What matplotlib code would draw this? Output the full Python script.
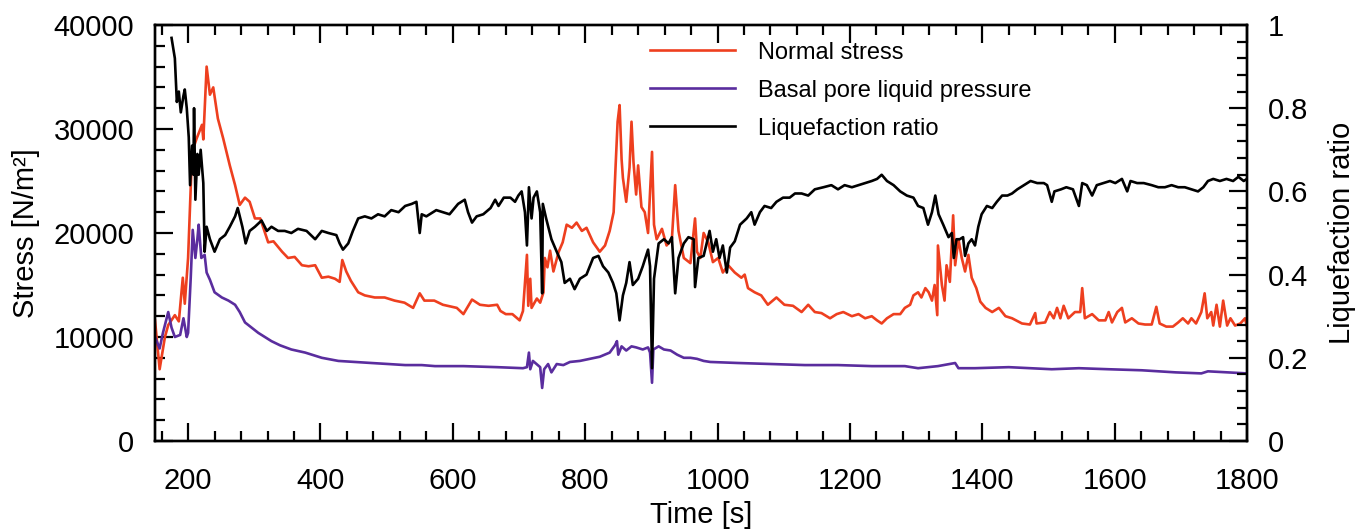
import numpy as np
import matplotlib
matplotlib.use('Agg')
import matplotlib.pyplot as plt
from matplotlib.ticker import MultipleLocator

plt.rcParams['font.family'] = ['Liberation Sans', 'DejaVu Sans']

# Normal stress [N/m2]
stress_t = [150, 157, 165, 170, 180, 186, 192, 195, 200, 206, 213, 221, 223, 228, 233, 238, 245, 253,
            263, 271, 278, 286, 293, 301, 309, 321, 329, 342, 351, 361, 372, 382, 392, 402, 412, 422,
            429, 433, 439, 446, 457, 467, 482, 497, 512, 527, 540, 550, 557, 572, 585, 606, 616, 629,
            641, 654, 667, 672, 680, 690, 701, 706, 712, 714, 717, 719, 727, 732, 737, 739, 743, 747,
            752, 760, 766, 772, 780, 787, 795, 802, 812, 822, 830, 837, 843, 846, 849, 852, 855, 857,
            862, 867, 870, 873, 877, 880, 885, 890, 895, 901, 904, 908, 916, 923, 931, 936, 941, 949,
            959, 966, 969, 974, 979, 986, 993, 1001, 1008, 1016, 1026, 1036, 1041, 1046, 1056, 1066,
            1076, 1089, 1101, 1114, 1127, 1137, 1147, 1157, 1170, 1180, 1190, 1203, 1213, 1223, 1233,
            1241, 1248, 1256, 1266, 1276, 1283, 1291, 1296, 1303, 1308, 1314, 1319, 1324, 1328, 1332,
            1333, 1339, 1343, 1346, 1351, 1356, 1359, 1364, 1369, 1374, 1379, 1384, 1391, 1397, 1405,
            1415, 1425, 1435, 1445, 1460, 1472, 1480, 1482, 1495, 1502, 1508, 1513, 1518, 1523, 1530,
            1540, 1548, 1551, 1555, 1566, 1576, 1586, 1591, 1596, 1604, 1611, 1616, 1626, 1636, 1646,
            1656, 1663, 1668, 1678, 1688, 1696, 1703, 1711, 1716, 1723, 1731, 1736, 1740, 1746, 1749,
            1754, 1759, 1764, 1770, 1775, 1782, 1790, 1797, 1800]
stress_v = [11600, 6900, 10000, 11150, 12100, 11500, 15700, 13200, 17600, 27800, 29100, 30400, 29000,
            36000, 33300, 34000, 31000, 29100, 26500, 24600, 22700, 23400, 23000, 21400, 21400, 19100,
            19200, 18200, 17600, 17700, 16900, 16800, 16900, 15700, 15800, 15600, 15300, 17400, 16300,
            15400, 14300, 14000, 13800, 13800, 13500, 13300, 12800, 14200, 13500, 13500, 13100, 12800,
            12200, 13600, 13100, 13000, 13100, 12500, 12200, 12200, 11600, 12500, 17900, 13000, 15600,
            12800, 13700, 13300, 14300, 17600, 16700, 18300, 16300, 18200, 19100, 20800, 20500, 21000,
            20200, 20500, 19100, 18200, 18800, 20200, 22000, 26500, 30700, 32300, 27100, 25300, 23000,
            26300, 30700, 26800, 23700, 26500, 22500, 22000, 20000, 27800, 20800, 19400, 20400, 18800,
            19400, 24600, 20200, 17600, 17100, 21400, 18200, 17600, 20000, 19100, 17200, 17600, 16200,
            16900, 16200, 15700, 16000, 14700, 14300, 14000, 13100, 13800, 13100, 13000, 12400, 13100,
            12400, 12300, 11800, 12200, 12400, 12000, 12200, 11800, 12000, 11600, 11300, 11800, 12200,
            12200, 12800, 13100, 14000, 14300, 13800, 14700, 14300, 13500, 15000, 12100, 18800, 15000,
            13500, 16900, 15300, 21700, 16900, 19400, 17600, 16300, 17900, 15700, 14700, 13400, 12800,
            12400, 12800, 12000, 11800, 11300, 11200, 12300, 11300, 11400, 12400, 11800, 12800, 11800,
            13000, 11800, 12400, 12400, 14700, 11800, 12200, 11600, 11600, 12400, 11400, 12400, 12800,
            11400, 11800, 11300, 11200, 11200, 12900, 11300, 11000, 11000, 11400, 11800, 11300, 11800,
            11300, 12400, 14200, 11800, 12400, 11100, 13100, 11000, 13500, 11100, 11800, 11100, 11300,
            11800, 11000]

# Basal pore liquid pressure [N/m2]
pore_t = [150, 157, 162, 170, 175, 180, 188, 193, 198, 200, 204, 207, 211, 214, 216, 220, 225, 228,
          233, 240, 251, 261, 271, 278, 286, 296, 306, 316, 326, 339, 356, 377, 402, 427, 452, 477,
          503, 528, 553, 573, 616, 667, 706, 712, 715, 717, 721, 732, 735, 738, 744, 749, 757, 767,
          777, 792, 807, 822, 837, 845, 848, 850, 855, 862, 870, 877, 887, 895, 898, 901, 903, 911,
          919, 929, 939, 949, 959, 969, 979, 989, 1031, 1082, 1132, 1182, 1233, 1283, 1303, 1333,
          1359, 1364, 1389, 1440, 1505, 1546, 1591, 1641, 1692, 1731, 1741, 1800]
pore_v = [10000, 8900, 10400, 12400, 10900, 10000, 10200, 11800, 10000, 10400, 15700, 20300, 17600,
          19400, 20800, 17600, 17900, 16200, 15500, 14300, 13800, 13500, 13100, 12400, 11400, 10900,
          10400, 10000, 9600, 9200, 8800, 8500, 8000, 7700, 7600, 7500, 7400, 7300, 7300, 7200, 7200,
          7100, 7000, 7100, 8500, 6900, 7700, 7100, 5100, 6900, 7400, 6600, 7400, 7300, 7600, 7700,
          7900, 8100, 8500, 9200, 9600, 8300, 9100, 8700, 9100, 9000, 8800, 9000, 8500, 5600, 8800,
          9100, 8800, 8700, 8300, 8000, 8000, 7900, 7700, 7600, 7500, 7400, 7300, 7300, 7200, 7200,
          7000, 7200, 7500, 7000, 7000, 7100, 6900, 7000, 6900, 6800, 6600, 6500, 6700, 6500]

# Liquefaction ratio
ratio_t = [175, 180, 183, 186, 189, 193, 195, 198, 201, 203, 206, 208, 209, 211, 214, 216, 219, 223,
           225, 228, 233, 240, 248, 256, 263, 271, 275, 282, 287, 293, 301, 311, 319, 326, 336, 346,
           356, 366, 379, 392, 402, 412, 424, 429, 434, 442, 449, 457, 467, 477, 487, 497, 507, 518,
           528, 538, 545, 550, 553, 560, 570, 575, 585, 595, 608, 618, 623, 629, 636, 646, 657, 664,
           669, 677, 687, 694, 699, 704, 709, 712, 715, 719, 722, 727, 732, 735, 736, 741, 749, 757,
           764, 769, 777, 784, 792, 802, 812, 820, 827, 835, 842, 847, 852, 857, 862, 867, 872, 880,
           887, 895, 898, 901, 904, 911, 919, 926, 931, 936, 941, 949, 956, 964, 966, 971, 979, 988,
           993, 998, 1003, 1008, 1014, 1019, 1026, 1034, 1044, 1051, 1056, 1064, 1071, 1081, 1089,
           1099, 1109, 1117, 1127, 1137, 1147, 1160, 1172, 1182, 1192, 1203, 1213, 1223, 1233, 1241,
           1248, 1256, 1266, 1276, 1286, 1296, 1303, 1311, 1318, 1324, 1329, 1334, 1341, 1349, 1354,
           1357, 1361, 1366, 1371, 1374, 1379, 1384, 1389, 1394, 1399, 1407, 1415, 1422, 1430, 1438,
           1445, 1453, 1463, 1473, 1483, 1493, 1498, 1505, 1509, 1519, 1527, 1537, 1546, 1551, 1558,
           1566, 1573, 1583, 1593, 1601, 1611, 1619, 1624, 1634, 1644, 1656, 1666, 1676, 1686, 1696,
           1706, 1716, 1726, 1734, 1741, 1749, 1759, 1769, 1779, 1787, 1795, 1800]
ratio_v = [0.969, 0.92, 0.815, 0.84, 0.79, 0.83, 0.845, 0.80, 0.73, 0.615, 0.71, 0.64, 0.80, 0.58,
           0.69, 0.64, 0.70, 0.62, 0.455, 0.515, 0.485, 0.455, 0.485, 0.495, 0.515, 0.54, 0.56, 0.515,
           0.475, 0.505, 0.515, 0.53, 0.505, 0.515, 0.505, 0.505, 0.50, 0.51, 0.505, 0.485, 0.505, 0.50,
           0.495, 0.475, 0.46, 0.475, 0.505, 0.535, 0.54, 0.535, 0.545, 0.54, 0.555, 0.55, 0.565, 0.57,
           0.575, 0.50, 0.545, 0.54, 0.55, 0.555, 0.55, 0.545, 0.57, 0.58, 0.55, 0.525, 0.54, 0.545,
           0.56, 0.58, 0.565, 0.585, 0.585, 0.575, 0.59, 0.60, 0.55, 0.47, 0.61, 0.535, 0.585, 0.60,
           0.55, 0.355, 0.57, 0.535, 0.485, 0.455, 0.43, 0.38, 0.39, 0.365, 0.39, 0.40, 0.44, 0.445,
           0.42, 0.405, 0.38, 0.355, 0.29, 0.35, 0.38, 0.43, 0.375, 0.39, 0.42, 0.46, 0.42, 0.175,
           0.39, 0.475, 0.485, 0.475, 0.49, 0.355, 0.44, 0.475, 0.49, 0.485, 0.37, 0.44, 0.445, 0.505,
           0.455, 0.485, 0.44, 0.47, 0.405, 0.465, 0.48, 0.52, 0.535, 0.55, 0.52, 0.55, 0.565, 0.56,
           0.575, 0.585, 0.585, 0.595, 0.595, 0.59, 0.605, 0.61, 0.615, 0.605, 0.615, 0.61, 0.615, 0.62,
           0.625, 0.63, 0.64, 0.625, 0.615, 0.60, 0.59, 0.585, 0.565, 0.56, 0.52, 0.55, 0.59, 0.545,
           0.52, 0.49, 0.50, 0.44, 0.485, 0.485, 0.49, 0.445, 0.475, 0.485, 0.47, 0.515, 0.545, 0.565,
           0.56, 0.575, 0.59, 0.59, 0.595, 0.605, 0.615, 0.625, 0.62, 0.62, 0.615, 0.575, 0.60, 0.605,
           0.61, 0.605, 0.565, 0.62, 0.615, 0.59, 0.615, 0.62, 0.625, 0.62, 0.63, 0.60, 0.625, 0.62,
           0.62, 0.615, 0.61, 0.61, 0.615, 0.61, 0.61, 0.605, 0.60, 0.61, 0.625, 0.63, 0.625, 0.63,
           0.625, 0.635, 0.625, 0.63]

RED = '#ee3f1f'
PURPLE = '#5a2d9e'
LW = 1.9

fig = plt.figure(figsize=(13.57, 5.29), dpi=100)
ax = fig.add_axes([155 / 1357, 1 - 441 / 529, 1092 / 1357, 416 / 529])
ax2 = ax.twinx()

l1, = ax.plot(stress_t, stress_v, color=RED, lw=LW, label='Normal stress')
l2, = ax.plot(pore_t, pore_v, color=PURPLE, lw=LW, label='Basal pore liquid pressure')
l3, = ax2.plot(ratio_t, ratio_v, color='black', lw=LW, label='Liquefaction ratio')

ax.set_xlim(150, 1800)
ax.set_ylim(0, 40000)
ax2.set_ylim(0, 1)

ax.xaxis.set_major_locator(MultipleLocator(200))
ax.xaxis.set_minor_locator(MultipleLocator(40))
ax.yaxis.set_major_locator(MultipleLocator(10000))
ax.yaxis.set_minor_locator(MultipleLocator(2000))
ax2.yaxis.set_minor_locator(MultipleLocator(0.04))
ax2.set_yticks([0, 0.2, 0.4, 0.6, 0.8, 1])
ax2.set_yticklabels(['0', '0.2', '0.4', '0.6', '0.8', '1'])

FS = 21
for a in (ax, ax2):
    for s in a.spines.values():
        s.set_linewidth(1.7)
ax.tick_params(axis='both', which='both', direction='in', width=1.6, labelsize=FS)
ax.tick_params(axis='x', which='both', top=True, pad=19)
ax.tick_params(axis='y', which='both', right=False, pad=15)
ax.tick_params(which='major', length=13)
ax.tick_params(which='minor', length=7)
ax2.tick_params(axis='y', which='both', direction='in', width=1.6, labelsize=FS, pad=15)
ax2.tick_params(which='major', length=13)
ax2.tick_params(which='minor', length=7)

ax.set_xlabel('Time [s]', fontsize=FS, labelpad=4)
ax.set_ylabel('Stress [N/m²]', fontsize=FS, labelpad=10)
ax2.set_ylabel('Liquefaction ratio', fontsize=FS, labelpad=14)

ax2.legend([l1, l2, l3], [l.get_label() for l in (l1, l2, l3)], loc='upper left',
           bbox_to_anchor=(0.453, 0.96), frameon=False, fontsize=17,
           handlelength=3.6, handletextpad=1.0, labelspacing=0.68, borderpad=0, borderaxespad=0)

fig.savefig('out.png', dpi=100)
